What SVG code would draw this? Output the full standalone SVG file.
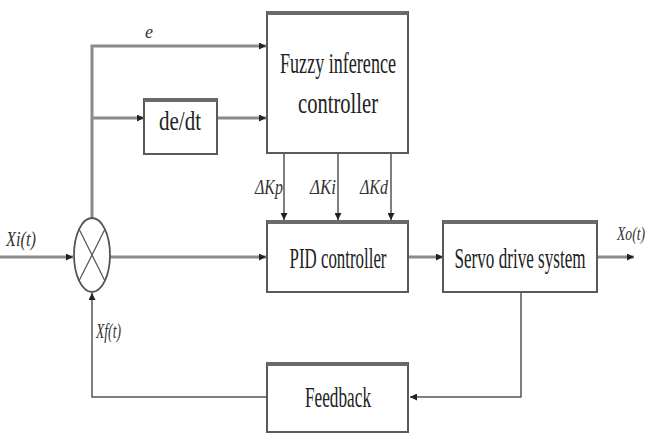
<svg xmlns="http://www.w3.org/2000/svg" width="648" height="439" viewBox="0 0 648 439">
<defs>
<style>
.box{fill:#fff;stroke:#5a5a5a;stroke-width:2}
.top{stroke:#6a6a6a;stroke-width:4}
.ln{fill:none;stroke:#8a8a8a;stroke-width:3}
.thin{fill:none;stroke:#555;stroke-width:1.5}
.t{font-family:"Liberation Serif",serif;fill:#222}
.lb{font-family:"Liberation Serif",serif;font-style:italic;fill:#333}
</style>
<marker id="ah" viewBox="0 0 10 10" refX="10" refY="5" markerWidth="7" markerHeight="7" markerUnits="userSpaceOnUse" orient="auto">
<path d="M0,0 L10,5 L0,10 z" fill="#222"/>
</marker>
</defs>
<rect width="648" height="439" fill="#fff"/>
<g id="connectors">
<path class="ln" d="M92,218 V46 H266" marker-end="url(#ah)"/>
<path class="ln" d="M92,118 H144" marker-end="url(#ah)"/>
<path class="ln" d="M217,118 H266" marker-end="url(#ah)"/>
<path class="ln" d="M0,257 H73" marker-end="url(#ah)"/>
<path class="ln" d="M110,257 H266" marker-end="url(#ah)"/>
<path class="thin" d="M284,153 V220" marker-end="url(#ah)"/>
<path class="thin" d="M338,153 V220" marker-end="url(#ah)"/>
<path class="thin" d="M391,153 V220" marker-end="url(#ah)"/>
<path class="ln" d="M409,257 H443" marker-end="url(#ah)"/>
<path class="ln" d="M597,257 H634" marker-end="url(#ah)"/>
<path class="thin" d="M521,293 V397 H410" marker-end="url(#ah)"/>
<path class="thin" d="M267,397 H92 V293" marker-end="url(#ah)"/>
</g>
<g id="sum">
<ellipse cx="92" cy="255" rx="18" ry="37" fill="#fff" stroke="#555" stroke-width="1.8"/>
<line x1="79" y1="229" x2="105" y2="281" stroke="#555" stroke-width="1.2"/>
<line x1="105" y1="229" x2="79" y2="281" stroke="#555" stroke-width="1.2"/>
</g>
<g id="fuzzy">
<rect class="box" x="267" y="12" width="141" height="141"/>
<line class="top" x1="267" y1="13" x2="408" y2="13"/>
<text class="t" x="338" y="73" font-size="30" text-anchor="middle" textLength="116" lengthAdjust="spacingAndGlyphs">Fuzzy inference</text>
<text class="t" x="338" y="113" font-size="30" text-anchor="middle" textLength="80" lengthAdjust="spacingAndGlyphs">controller</text>
</g>
<g id="dedt">
<rect class="box" x="144" y="99" width="73" height="55"/>
<line class="top" x1="144" y1="100" x2="217" y2="100"/>
<text class="t" x="180" y="130" font-size="28" text-anchor="middle" textLength="42" lengthAdjust="spacingAndGlyphs">de/dt</text>
</g>
<g id="pid">
<rect class="box" x="267" y="221" width="141" height="71"/>
<line class="top" x1="267" y1="222" x2="408" y2="222"/>
<text class="t" x="338" y="268" font-size="30" text-anchor="middle" textLength="97" lengthAdjust="spacingAndGlyphs">PID controller</text>
</g>
<g id="servo">
<rect class="box" x="443" y="221" width="154" height="71"/>
<line class="top" x1="443" y1="222" x2="597" y2="222"/>
<text class="t" transform="translate(520,268) scale(0.59,1)" x="0" y="0" font-size="29" text-anchor="middle">Servo drive system</text>
</g>
<g id="feedback">
<rect class="box" x="267" y="363" width="141" height="69"/>
<line class="top" x1="267" y1="364" x2="408" y2="364"/>
<text class="t" x="338" y="407" font-size="30" text-anchor="middle" textLength="66" lengthAdjust="spacingAndGlyphs">Feedback</text>
</g>
<g id="labels">
<text class="lb" x="145" y="38" font-size="18">e</text>
<text class="lb" x="6" y="246" font-size="21" textLength="30" lengthAdjust="spacingAndGlyphs">Xi(t)</text>
<text class="lb" x="96" y="338" font-size="21" textLength="25" lengthAdjust="spacingAndGlyphs">Xf(t)</text>
<text class="lb" transform="translate(617,240) scale(0.72,1)" x="0" y="0" font-size="19">Xo(t)</text>
<text class="lb" x="255" y="194" font-size="20" textLength="28" lengthAdjust="spacingAndGlyphs">ΔKp</text>
<text class="lb" x="310" y="194" font-size="20" textLength="26" lengthAdjust="spacingAndGlyphs">ΔKi</text>
<text class="lb" x="360" y="194" font-size="20" textLength="28" lengthAdjust="spacingAndGlyphs">ΔKd</text>
</g>
</svg>
